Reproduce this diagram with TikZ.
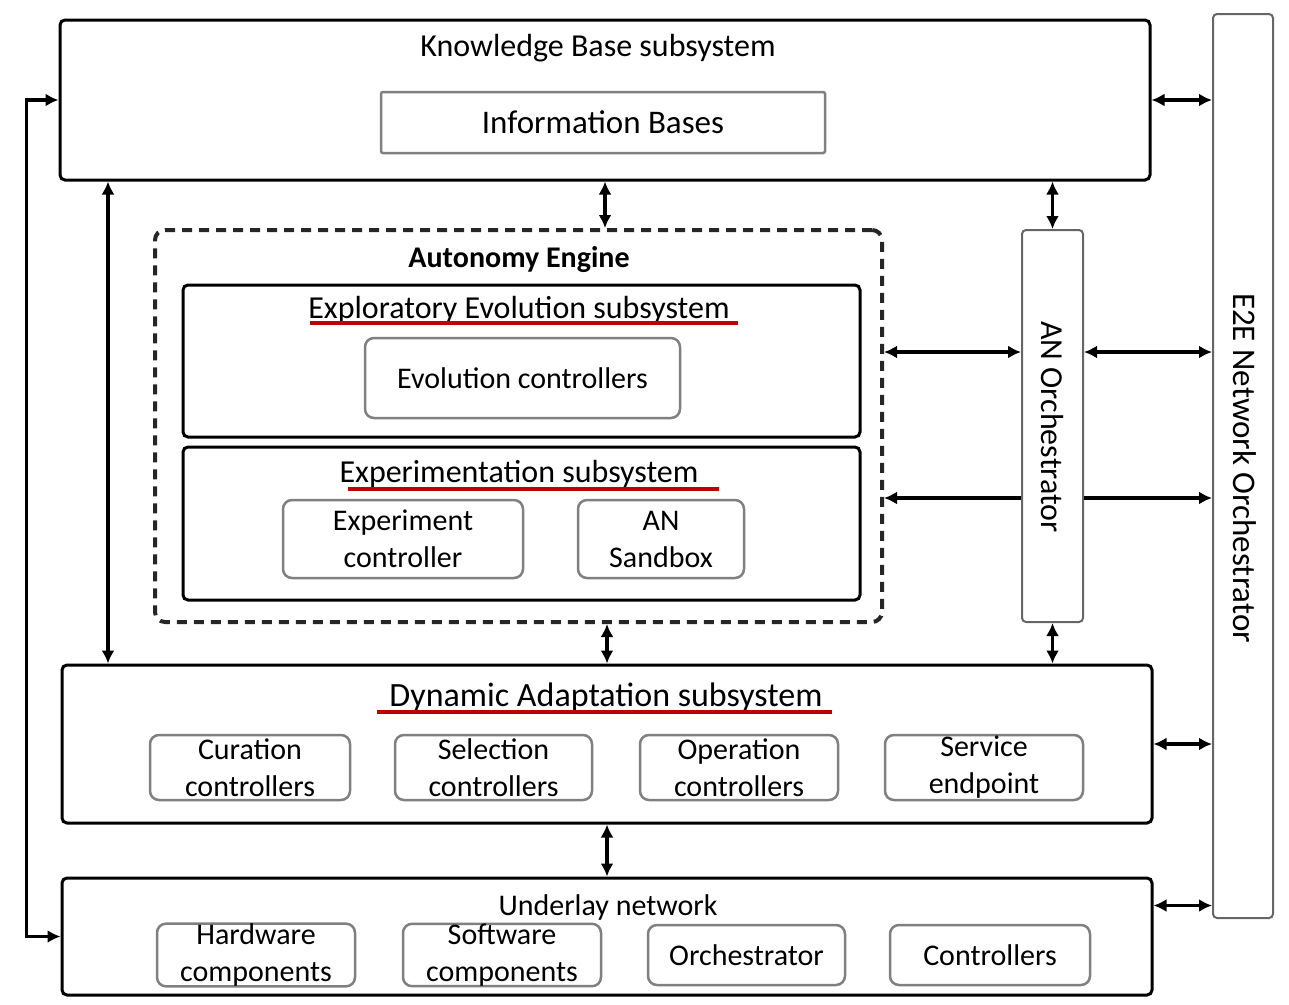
\documentclass[tikz,border=0pt]{standalone}
\usepackage{fontspec}
\setmainfont{Carlito}
\usetikzlibrary{arrows.meta}
\begin{document}
\begin{tikzpicture}[x=1pt,y=-1pt,
  sysbox/.style={draw=black, line width=3pt, rounded corners=5pt, inner sep=0pt},
  subbox/.style={draw=black!50, line width=2.5pt, rounded corners=9pt, inner sep=0pt,
    align=center, font=\fontsize{30}{37}\selectfont},
  orchbox/.style={draw=black!60, line width=2pt, rounded corners=4pt, inner sep=0pt},
  title/.style={font=\fontsize{32}{36}\selectfont, inner sep=0pt},
  redline/.style={draw=red!75!black, line width=4pt},
  tip/.tip={Latex[length=13pt,width=13pt]},
  arr/.style={line width=3.5pt, tip-tip},
  arrl/.style={line width=3.5pt, tip-},
  arrr/.style={line width=3.5pt, -tip}
]
\useasboundingbox (0,0) rectangle (1289,1004);

% Knowledge Base subsystem
\node[sysbox, minimum width=1090pt, minimum height=160pt] (kb) at (605,100) {};
\node[title] (kbt) at (598,48) {Knowledge Base subsystem};
\node[subbox, rounded corners=2pt, minimum width=444pt, minimum height=61pt,
  font=\fontsize{33}{36}\selectfont] (ib) at (603,122.5) {Information Bases};

% E2E network orchestrator (right column)
\node[orchbox, minimum width=60pt, minimum height=904pt] (e2e) at (1243,466) {};
\node[title, rotate=-90, font=\fontsize{33}{36}\selectfont] (e2et) at (1245,468) {E2E Network Orchestrator};

% Autonomy Engine
\node[draw=black!85, line width=4pt, dash pattern=on 10pt off 7pt, rounded corners=10pt,
  minimum width=727pt, minimum height=392pt] (ae) at (518.5,426) {};
\node[title, font=\bfseries\fontsize{30}{34}\selectfont] (aet) at (519,260) {Autonomy Engine};

\node[sysbox, minimum width=677pt, minimum height=152pt] (ee) at (521.5,361) {};
\node[title] (eet) at (519,310) {Exploratory Evolution subsystem};
\draw[redline] (310,323) -- (738,323);
\node[subbox, minimum width=315pt, minimum height=80pt] (evc) at (522.5,378) {Evolution controllers};

\node[sysbox, minimum width=677pt, minimum height=153pt] (ex) at (521.5,523.5) {};
\node[title] (ext) at (519,474) {Experimentation subsystem};
\draw[redline] (348,489) -- (719,489);
\node[subbox, minimum width=240pt, minimum height=78pt] (expc) at (403,539) {Experiment\\controller};
\node[subbox, minimum width=166pt, minimum height=78pt] (sand) at (661,539) {AN\\Sandbox};

% AN Orchestrator
\node[orchbox, minimum width=61pt, minimum height=392pt] (ano) at (1052.5,426) {};
\node[title, rotate=-90] (anot) at (1052,427) {AN Orchestrator};

% Dynamic Adaptation subsystem
\node[sysbox, minimum width=1090pt, minimum height=158pt] (da) at (607,744) {};
\node[title, font=\fontsize{34}{38}\selectfont] (dat) at (606,697) {Dynamic Adaptation subsystem};
\draw[redline] (377,712) -- (832,712);
\node[subbox, minimum width=200pt, minimum height=65pt] (cur) at (250,767.5) {Curation\\controllers};
\node[subbox, minimum width=197pt, minimum height=65pt] (sel) at (493.5,767.5) {Selection\\controllers};
\node[subbox, minimum width=198pt, minimum height=65pt] (opc) at (739,767.5) {Operation\\controllers};
\node[subbox, minimum width=198pt, minimum height=65pt] (sep) at (984,767.5) {Service\\endpoint};

% Underlay network
\node[sysbox, minimum width=1090pt, minimum height=117pt] (un) at (607,936.5) {};
\node[title, font=\fontsize{30}{34}\selectfont] (unt) at (608,907) {Underlay network};
\node[subbox, minimum width=198pt, minimum height=60pt] (hw) at (256,955) {Hardware\\components};
\node[subbox, minimum width=198pt, minimum height=60pt] (sw) at (502,955) {Software\\components};
\node[subbox, minimum width=197pt, minimum height=60pt] (orc) at (746.5,955) {Orchestrator};
\node[subbox, minimum width=200pt, minimum height=60pt] (ctl) at (990,955) {Controllers};

% Vertical connectors in the middle column
\draw[arr] (kb.south) -- (kb.south |- ae.north);
\draw[arr] (da.north) -- (da.north |- ae.south);
\draw[arr] (da.south) -- (da.south |- un.north);
\draw[arr] (ano.north) -- (ano.north |- kb.south);
\draw[arr] (ano.south) -- (ano.south |- da.north);

% Knowledge base to dynamic adaptation
\coordinate (lx) at (108,0);
\draw[arr] (lx |- kb.south) -- (lx |- da.north);

% Outer loop between knowledge base and underlay network
\draw[arr] (kb.west) -- ++(-32,0) |- (un.west);

% Autonomy engine <-> AN orchestrator
\coordinate (a1) at ([yshift=74pt]ae.east);
\coordinate (a2) at ([yshift=-72pt]ae.east);
\draw[arr] (a1) -- (a1 -| ano.west);
\draw[arrl] (a2) -- (a2 -| ano.west);

% AN orchestrator <-> E2E orchestrator
\coordinate (b1) at ([yshift=74pt]ano.east);
\coordinate (b2) at ([yshift=-72pt]ano.east);
\draw[arr] (b1) -- (b1 -| e2e.west);
\draw[arrr] (b2) -- (b2 -| e2e.west);

% Subsystems <-> E2E orchestrator
\draw[arr] (kb.east) -- (kb.east -| e2e.west);
\draw[arr] (da.east) -- (da.east -| e2e.west);
\coordinate (c1) at ([yshift=31pt]un.east);
\draw[arr] (c1) -- (c1 -| e2e.west);
\end{tikzpicture}
\end{document}
